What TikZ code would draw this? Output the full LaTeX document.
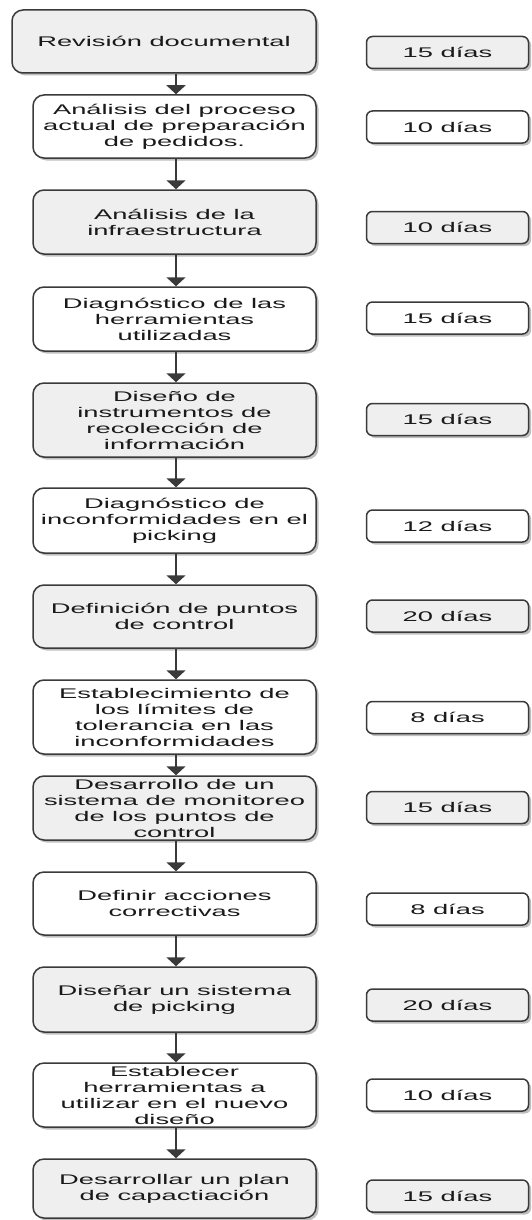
\documentclass[tikz,border=0pt]{standalone}
\usepackage{fontspec}
\newfontfamily\wf[FakeStretch=1.95]{Liberation Sans}
\usetikzlibrary{arrows.meta,shadows}
\definecolor{bord}{HTML}{3A3A3A}
\definecolor{gfill}{HTML}{EFEFEF}
\definecolor{txt}{HTML}{1A1A1A}
\begin{document}
\begin{tikzpicture}[x=1pt,y=-1pt,
  base/.style={draw=bord, line width=1.5pt, align=center, inner sep=0pt,
    text=txt, font=\wf\fontsize{14}{16}\selectfont,
    drop shadow={shadow xshift=2.5pt, shadow yshift=-2.5pt, fill=black, opacity=0.25}},
  lbox/.style={base, rounded corners=11pt, minimum width=283pt},
  rbox/.style={base, rounded corners=6pt, minimum width=162pt, minimum height=32pt},
  gr/.style={fill=gfill}, wh/.style={fill=white},
  conn/.style={draw=bord, line width=1.8pt, -{Triangle[width=19pt,length=9pt]}}]
\useasboundingbox (0,0) rectangle (531,1220);
% left column
\node[lbox,gr,minimum width=304pt,minimum height=63pt] (b1) at (164,41.5) {Revisión documental};
\node[lbox,wh,minimum height=63pt] (b2) at (174.5,126.5) {Análisis del proceso\\actual de preparación\\de pedidos.};
\node[lbox,gr,minimum height=64pt] (b3) at (174.5,222) {Análisis de la\\infraestructura};
\node[lbox,wh,minimum height=64pt] (b4) at (174.5,319) {Diagnóstico de las\\herramientas\\utilizadas};
\node[lbox,gr,minimum height=74pt] (b5) at (174.5,420) {Diseño de\\instrumentos de\\recolección de\\información};
\node[lbox,wh,minimum height=65pt] (b6) at (174.5,520.5) {Diagnóstico de\\inconformidades en el\\picking};
\node[lbox,gr,minimum height=63pt] (b7) at (174.5,616.5) {Definición de puntos\\de control};
\node[lbox,wh,minimum height=74pt] (b8) at (174.5,717) {Establecimiento de\\los límites de\\tolerancia en las\\inconformidades};
\node[lbox,gr,minimum height=64pt] (b9) at (174.5,808) {Desarrollo de un\\sistema de monitoreo\\de los puntos de\\control};
\node[lbox,wh,minimum height=63pt] (b10) at (174.5,903.5) {Definir acciones\\correctivas};
\node[lbox,gr,minimum height=65pt] (b11) at (174.5,999.5) {Diseñar un sistema\\de picking};
\node[lbox,wh,minimum height=64pt] (b12) at (174.5,1095) {Establecer\\herramientas a\\utilizar en el nuevo\\diseño};
\node[lbox,gr,minimum height=59pt] (b13) at (174.5,1188.5) {Desarrollar un plan\\de capactiación};
% right column
\node[rbox,gr] (d1) at (447.5,52.5) {15 días};
\node[rbox,wh] (d2) at (447.5,127) {10 días};
\node[rbox,gr] (d3) at (447.5,227.5) {10 días};
\node[rbox,wh] (d4) at (447.5,318) {15 días};
\node[rbox,gr] (d5) at (447.5,419.5) {15 días};
\node[rbox,wh] (d6) at (447.5,526) {12 días};
\node[rbox,gr] (d7) at (447.5,616) {20 días};
\node[rbox,wh] (d8) at (447.5,717.5) {8 días};
\node[rbox,gr] (d9) at (447.5,807.5) {15 días};
\node[rbox,wh] (d10) at (447.5,909) {8 días};
\node[rbox,gr] (d11) at (447.5,1005) {20 días};
\node[rbox,wh] (d12) at (447.5,1095) {10 días};
\node[rbox,gr] (d13) at (447.5,1196) {15 días};
% connectors
\foreach \a/\b in {b1/b2,b2/b3,b3/b4,b4/b5,b5/b6,b6/b7,b7/b8,b8/b9,b9/b10,b10/b11,b11/b12,b12/b13}
  \draw[conn] (\a.south -| 176,0) -- (\b.north -| 176,0);
\end{tikzpicture}
\end{document}
